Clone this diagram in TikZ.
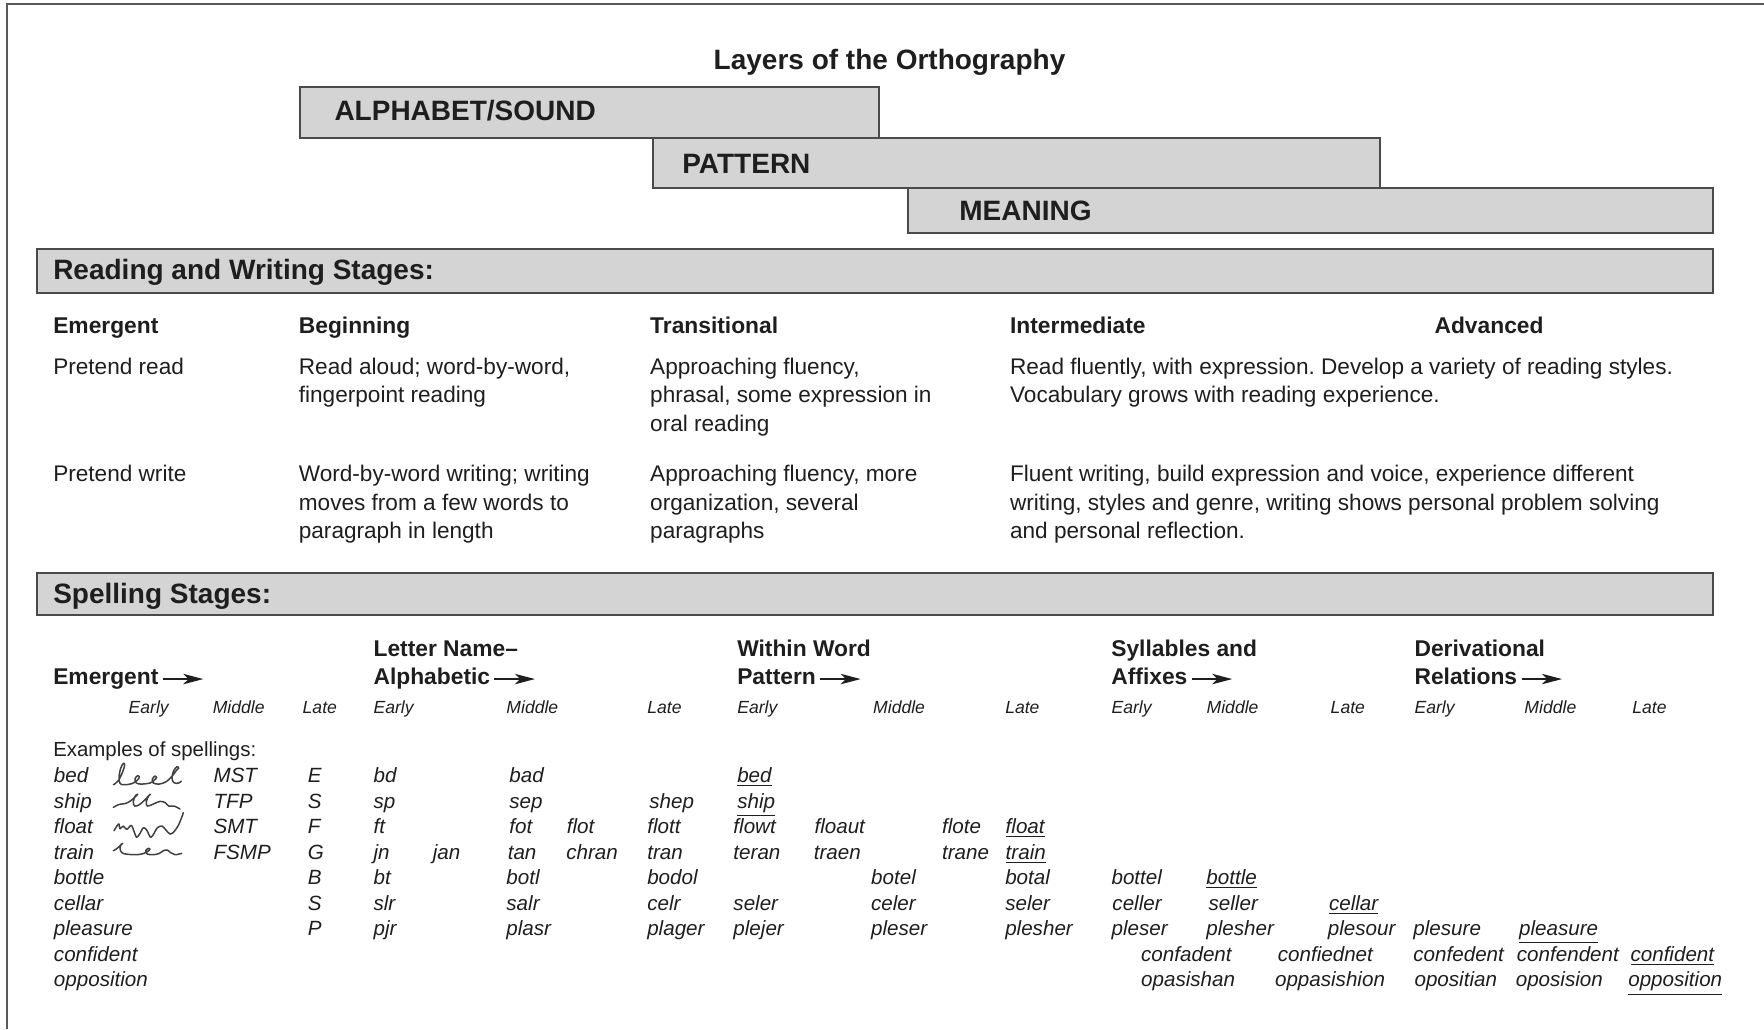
\documentclass[tikz,border=0pt]{standalone}
\usepackage{fontspec}
\setmainfont{Liberation Sans}
\usetikzlibrary{arrows.meta}
\frenchspacing

\definecolor{ink}{HTML}{1E1E1E}
\definecolor{barfill}{HTML}{D4D4D4}
\definecolor{barline}{HTML}{4A4A4A}
\definecolor{frameline}{HTML}{5A5A5A}

% left-aligned block whose first line sits on the node baseline
\newcommand{\stackedlines}[1]{\begin{tabular}[t]{@{}l@{}}#1\end{tabular}}
% one row of example spellings: row id, baseline, list of x/word
\newcommand{\wordrow}[3]{%
  \foreach \x/\w [count=\j] in {#3} {\node[word] (w#1-\j) at (\x,#2) {\w};}}

\tikzset{
  txt/.style={inner sep=0pt, anchor=base west, text=ink},
  bar/.style={draw=barline, fill=barfill, line width=1pt},
  bartext/.style={txt, font=\fontsize{14}{16}\selectfont\bfseries},
  colhead/.style={txt, font=\fontsize{11.4}{14.06}\selectfont\bfseries},
  body/.style={txt, font=\fontsize{11.3}{14.06}\selectfont},
  phase/.style={txt, font=\fontsize{8.8}{10}\selectfont\itshape},
  word/.style={txt, font=\fontsize{10.3}{12.8}\selectfont\itshape},
  stagearrow/.style={-{Stealth[length=10pt,width=5.2pt,inset=2.6pt]}, line width=0.9pt, draw=ink},
  scribble/.style={draw=ink!85, line width=0.75pt, line cap=round, line join=round},
}

\begin{document}
\begin{tikzpicture}[x=0.5625pt, y=-0.5625pt]
\useasboundingbox (0,0) rectangle (1568,914.67);

% outer frame (top and left edges)
\draw[frameline, line width=1pt] (5.9,914.67) -- (5.9,3.9) -- (1568,3.9);

% layers of the orthography
\node[txt, anchor=base, font=\fontsize{14}{16}\selectfont\bfseries] (title) at (790.7,61.5) {Layers of the Orthography};
\draw[bar] (266.4,77) rectangle (781.7,122.7);
\draw[bar] (580.2,122.7) rectangle (1226.2,166.8);
\draw[bar] (807.3,166.8) rectangle (1522.8,207.4);
\node[bartext] (alpha) at (297,107.5) {ALPHABET/SOUND};
\node[bartext] (pattern) at (606.2,154.5) {PATTERN};
\node[bartext] (meaning) at (852.4,196.3) {MEANING};

% reading and writing stages
\draw[bar] (33.2,221.6) rectangle (1522.8,260.2);
\node[bartext] (rwhead) at (47,248.6) {Reading and Writing Stages:};

\node[colhead] (hEm) at (47,296.5) {Emergent};
\node[colhead] (hBeg) at (265.3,296.5) {Beginning};
\node[colhead] (hTr) at (577.6,296.5) {Transitional};
\node[colhead] (hInt) at (897.5,296.5) {Intermediate};
\node[colhead] (hAdv) at (1274.8,296.5) {Advanced};

\node[body] (rEm) at (47,333.2) {Pretend read};
\node[body] (rBeg) at (265.3,333.2) {\stackedlines{Read aloud; word-by-word,\\fingerpoint reading}};
\node[body] (rTr) at (577.6,333.2) {\stackedlines{Approaching fluency,\\phrasal, some expression in\\oral reading}};
\node[body] (rInt) at (897.5,333.2) {\stackedlines{Read fluently, with expression. Develop a variety of reading styles.\\Vocabulary grows with reading experience.}};

\node[body] (wEm) at (47,428.4) {Pretend write};
\node[body] (wBeg) at (265.3,428.4) {\stackedlines{Word-by-word writing; writing\\moves from a few words to\\paragraph in length}};
\node[body] (wTr) at (577.6,428.4) {\stackedlines{Approaching fluency, more\\organization, several\\paragraphs}};
\node[body] (wInt) at (897.5,428.4) {\stackedlines{Fluent writing, build expression and voice, experience different\\writing, styles and genre, writing shows personal problem solving\\and personal reflection.}};

% spelling stages
\draw[bar] (33.2,509) rectangle (1522.8,546.7);
\node[bartext] (sphead) at (47,536) {Spelling Stages:};

\node[colhead] (sEm) at (47,608.6) {Emergent};
\node[colhead] (sLN1) at (331.7,583.6) {Letter Name--};
\node[colhead] (sLN2) at (331.7,608.6) {Alphabetic};
\node[colhead] (sWW1) at (655,583.6) {Within Word};
\node[colhead] (sWW2) at (655,608.6) {Pattern};
\node[colhead] (sSA1) at (987.5,583.6) {Syllables and};
\node[colhead] (sSA2) at (987.5,608.6) {Affixes};
\node[colhead] (sDR1) at (1257,583.6) {Derivational};
\node[colhead] (sDR2) at (1257,608.6) {Relations};

\foreach \n in {sEm,sLN2,sWW2,sSA2,sDR2}
  \draw[stagearrow] ([shift={(3.5,-5)}]\n.base east) -- ++(36,0);

\foreach \x/\t [count=\i] in {114/Early,188.8/Middle,268.7/Late,
    331.7/Early,449.8/Middle,575.1/Late,
    655/Early,775.8/Middle,893.2/Late,
    987.7/Early,1072.2/Middle,1182.5/Late,
    1257/Early,1354.7/Middle,1450.6/Late}
  \node[phase] (ph\i) at (\x,634.2) {\t};

\node[txt, font=\fontsize{10.2}{12.8}\selectfont] (examples) at (47,672.8) {Examples of spellings:};

\wordrow{1}{695.6}{47.6/bed,189.5/MST,273.2/E,331.7/bd,452.4/bad,655/\underline{bed}}
\wordrow{2}{718.3}{47.6/ship,189.5/TFP,273.2/S,331.7/sp,452.4/sep,576.8/shep,655/\underline{ship}}
\wordrow{3}{741.0}{47.6/float,189.5/SMT,273.2/F,331.7/ft,452.4/fot,503.5/flot,575/flott,651.6/flowt,723.7/floaut,837/flote,893.6/\underline{float}}
\wordrow{4}{763.7}{47.6/train,189.5/FSMP,273.2/G,331.7/jn,384.4/jan,451/tan,503/chran,575/tran,651.6/teran,723/traen,837/trane,893.6/\underline{train}}
\wordrow{5}{786.4}{47.6/bottle,273.2/B,331.7/bt,449.8/botl,575/bodol,774/botel,893.2/botal,987.7/bottel,1072/\underline{bottle}}
\wordrow{6}{809.1}{47.6/cellar,273.2/S,331.7/slr,449.8/salr,575/celr,651.6/seler,774/celer,893.2/seler,988.5/celler,1074/seller,1181/\underline{cellar}}
\wordrow{7}{831.8}{47.6/pleasure,273.2/P,331.7/pjr,449.8/plasr,575/plager,651.6/plejer,774/pleser,893.2/plesher,987.7/pleser,1072/plesher,1180/plesour,1256/plesure,1350/\underline{pleasure}}
\wordrow{8}{854.5}{47.6/confident,1014/confadent,1135.5/confiednet,1256/confedent,1348/confendent,1449/\underline{confident}}
\wordrow{9}{877.2}{47.6/opposition,1014/opasishan,1133/oppasishion,1257/opositian,1347/oposision,1447/\underline{opposition}}

% pretend-writing scribbles
\begin{scope}[shift={(88.9,666.7)}, scale=0.2963]
  \draw[scribble] plot[smooth, tension=0.6] coordinates {(40,104) (55,92) (68,65) (74,45) (70,40) (62,55) (57,80) (60,100) (72,104) (95,101) (110,92) (118,82) (113,77) (105,86) (108,98) (122,102) (150,99) (163,90) (170,82) (165,78) (157,87) (160,99) (178,102) (200,94) (218,76) (230,60) (236,54) (231,50) (221,62) (216,84) (222,98) (236,99) (244,93)};
  \draw[scribble] plot[smooth, tension=0.6] coordinates {(40,172) (58,163) (78,160) (95,150) (108,138) (113,133) (106,137) (100,155) (104,168) (118,164) (134,150) (146,137) (151,133) (146,137) (139,155) (142,168) (160,162) (180,154) (196,158) (206,168) (222,168) (240,177)};
  \draw[scribble] plot[smooth, tension=0.5] coordinates {(42,242) (52,226) (57,222) (60,236) (70,228) (80,238) (94,226) (102,244) (110,262) (120,250) (130,233) (140,240) (152,262) (162,250) (172,233) (186,228) (198,240) (210,252) (222,245) (235,226) (245,202) (250,188)};
  \draw[scribble] plot[smooth, tension=0.6] coordinates {(40,302) (50,296) (62,285) (68,280) (64,282) (60,295) (66,308) (85,313) (120,313) (140,306) (150,298) (145,295) (137,302) (142,312) (160,314) (178,310) (190,302) (202,300) (212,308) (225,314) (245,310)};
\end{scope}
\end{tikzpicture}
\end{document}
